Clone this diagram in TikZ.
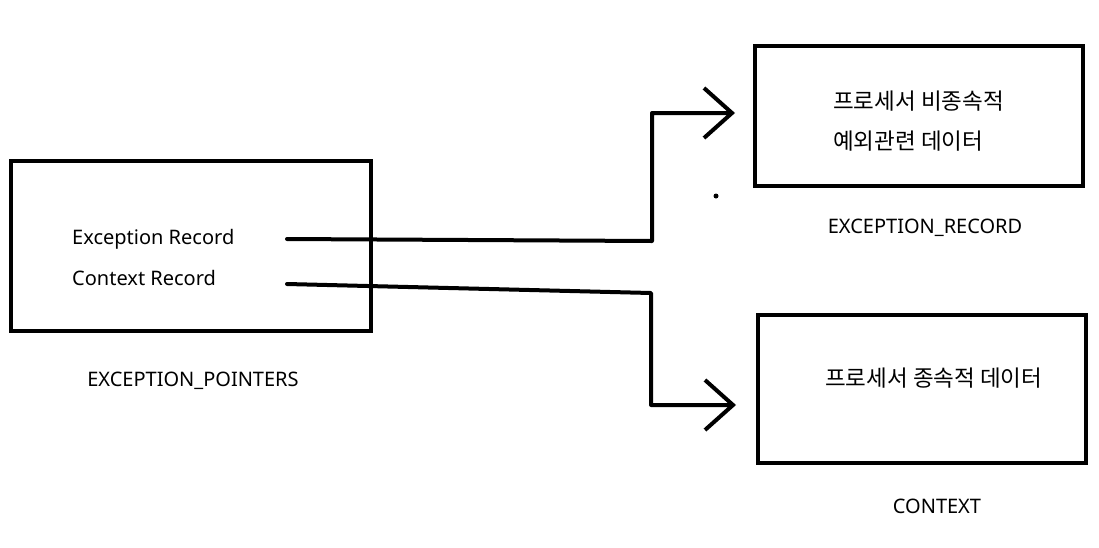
\documentclass[tikz,border=0pt]{standalone}
\usepackage{fontspec}
\setmainfont{Noto Sans}
\newfontfamily\kor{Noto Sans CJK KR}
\usetikzlibrary{arrows.meta}

\begin{document}
\begin{tikzpicture}[x=1pt,y=-1pt,
    font=\fontsize{20}{40}\selectfont,
    box/.style={draw, line width=4.5pt},
    txt/.style={inner sep=0pt, anchor=west},
    hangul/.style={font=\kor\fontsize{22.5}{40}\selectfont},
    link/.style={line width=4pt, line cap=round, line join=round,
      -{Straight Barb[length=28pt,width=50pt,line width=4pt]}}]
  \useasboundingbox (0,0) rectangle (1099,547);
  % boxes
  \draw[box] (11,161) rectangle (371,331);
  \draw[box] (755,46) rectangle (1083,186);
  \draw[box] (758,315) rectangle (1086,463);
  % texts
  \node[txt] (exrec) at (72,239) {Exception Record};
  \node[txt] (ctxrec) at (72,278) {Context Record};
  \node[inner sep=0pt] (ptrs) at (193,381) {EXCEPTION\_POINTERS};
  \node[txt, hangul, align=left] (recdata) at (833,121) {프로세서 비종속적\\예외관련 데이터};
  \node[inner sep=0pt] (recname) at (925,228) {EXCEPTION\_RECORD};
  \node[txt, hangul] (ctxdata) at (825,378) {프로세서 종속적 데이터};
  \node[inner sep=0pt] (ctxname) at (937,506) {CONTEXT};
  \fill (716,196) circle (2.5pt);
  % pointers
  \coordinate (exfrom) at (287,239);
  \coordinate (exto) at (735,113);
  \coordinate (ctxfrom) at (287,284);
  \coordinate (ctxto) at (736,405);
  \draw[link] (exfrom) -- (652,241) -- (652,113) -- (exto);
  \draw[link] (ctxfrom) -- (651,293) -- (651,405) -- (ctxto);
\end{tikzpicture}
\end{document}
